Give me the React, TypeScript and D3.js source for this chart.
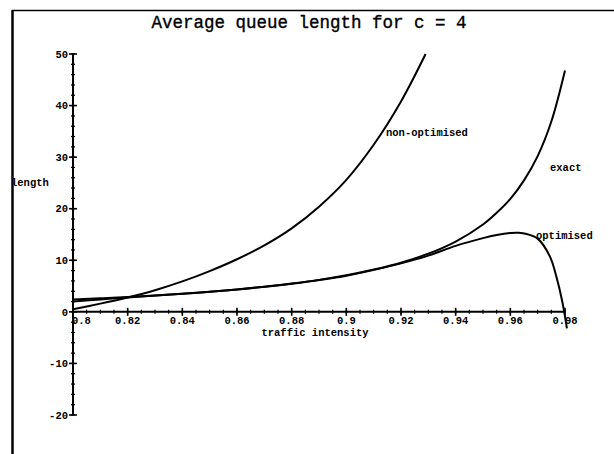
import React from 'react'
import * as d3 from 'd3'

const title = 'Average queue length for c = 4'

const exactRho = [0.8, 0.81, 0.82, 0.83, 0.84, 0.85, 0.86, 0.87, 0.88, 0.89, 0.9, 0.91, 0.92, 0.93, 0.94, 0.95, 0.955, 0.96, 0.965, 0.97, 0.975, 0.98]
const exactLen = [2.39, 2.62, 2.88, 3.18, 3.52, 3.91, 4.35, 4.88, 5.48, 6.2, 7.09, 8.2, 9.53, 11.28, 13.63, 16.94, 19.2, 21.9, 25.5, 30.2, 36.9, 46.8]

const optRho = [0.8, 0.81, 0.82, 0.84, 0.86, 0.88, 0.9, 0.92, 0.93, 0.94, 0.95, 0.955, 0.96, 0.963, 0.966, 0.97, 0.9745, 0.977, 0.979, 0.9807]
const optLen = [2.0, 2.4, 2.8, 3.5, 4.35, 5.45, 7.0, 9.4, 10.9, 12.8, 14.3, 14.9, 15.3, 15.35, 15.1, 14.2, 10.7, 6.5, 2.0, -3.2]

const nonRho = [0.8, 0.81, 0.82, 0.83, 0.84, 0.85, 0.86, 0.87, 0.88, 0.89, 0.9, 0.91, 0.92, 0.929]
const nonLen = [0.5, 1.6, 2.8, 4.2, 5.9, 7.9, 10.2, 12.9, 16.2, 20.4, 25.6, 32.4, 40.8, 50]

const xTicks = [0.8, 0.82, 0.84, 0.86, 0.88, 0.9, 0.92, 0.94, 0.96, 0.98]
const xTickLabels = ['0.8', '0.82', '0.84', '0.86', '0.88', '0.9', '0.92', '0.94', '0.96', '0.98']
const yTicks = [50, 40, 30, 20, 10, 0, -10, -20]

const x = d3.scaleLinear().domain([0.8, 0.98]).range([73, 565])
const y = d3.scaleLinear().domain([-20, 50]).range([415, 54])

const line = d3
  .line<[number, number]>()
  .x((d) => x(d[0]))
  .y((d) => y(d[1]))
  .curve(d3.curveCatmullRom.alpha(0.5))

const zip = (a: number[], b: number[]) => a.map((v, i) => [v, b[i]] as [number, number])

const mono = '"Liberation Mono", "DejaVu Sans Mono", monospace'

const App = () => {
  const xMinor = d3.range(0.8, 0.9801, 0.005)
  const yMinor = d3.range(-20, 50.01, 2)
  const x0 = x(0.8)
  const y0 = y(0)

  return (
    <svg
      width={614}
      height={454}
      style={{ position: 'absolute', left: 0, top: 0, background: '#fff' }}
    >
      <rect width={614} height={454} fill="#fff" />

      <text
        x={309}
        y={28}
        textAnchor="middle"
        fontFamily={mono}
        fontSize={17.5}
        stroke="#000"
        strokeWidth={0.35}
      >
        {title}
      </text>

      {/* axes */}
      <line x1={x0} x2={x0} y1={y(50)} y2={y(-20)} stroke="#000" strokeWidth={2} />
      <line x1={x0} x2={x(0.98)} y1={y0} y2={y0} stroke="#000" strokeWidth={2} />

      {yMinor.map((v) => (
        <line key={'ym' + v} x1={x0 - 2} x2={x0 + 2} y1={y(v)} y2={y(v)} stroke="#000" strokeWidth={1.2} />
      ))}
      {yTicks.map((v) => (
        <g key={'y' + v}>
          <line x1={x0 - 4} x2={x0 + 4} y1={y(v)} y2={y(v)} stroke="#000" strokeWidth={1.6} />
          <text
            x={x0 - 5}
            y={y(v)}
            dy="0.35em"
            textAnchor="end"
            fontFamily={mono}
            fontWeight="bold"
            fontSize={10.5}
          >
            {v}
          </text>
        </g>
      ))}

      {xMinor.map((v) => (
        <line key={'xm' + v} x1={x(v)} x2={x(v)} y1={y0 - 2} y2={y0 + 2} stroke="#000" strokeWidth={1.2} />
      ))}
      {xTicks.map((v, i) => (
        <g key={'x' + v}>
          <line x1={x(v)} x2={x(v)} y1={y0 - 4} y2={y0 + 4} stroke="#000" strokeWidth={1.6} />
          <text
            x={i === 0 ? x(v) - 1 : x(v)}
            y={y0 + 12}
            textAnchor={i === 0 ? 'start' : 'middle'}
            fontFamily={mono}
            fontWeight="bold"
            fontSize={10.5}
          >
            {xTickLabels[i]}
          </text>
        </g>
      ))}

      <text x={(x(0.8) + x(0.98)) / 2 - 4} y={y0 + 24} textAnchor="middle" fontFamily={mono} fontWeight="bold" fontSize={10.5}>
        traffic intensity
      </text>
      <text x={11} y={186} fontFamily={mono} fontWeight="bold" fontSize={10.5}>
        length
      </text>

      {/* curves */}
      <path d={line(zip(exactRho, exactLen)) || ''} fill="none" stroke="#000" strokeWidth={2} />
      <path d={line(zip(optRho, optLen)) || ''} fill="none" stroke="#000" strokeWidth={2} />
      <path d={line(zip(nonRho, nonLen)) || ''} fill="none" stroke="#000" strokeWidth={2} />

      <text x={386} y={136} fontFamily={mono} fontWeight="bold" fontSize={10.5}>
        non-optimised
      </text>
      <text x={550} y={171} fontFamily={mono} fontWeight="bold" fontSize={10.5}>
        exact
      </text>
      <text x={536} y={239} fontFamily={mono} fontWeight="bold" fontSize={10.5}>
        optimised
      </text>

      {/* frame */}
      <line x1={12.5} x2={12.5} y1={10} y2={454} stroke="#000" strokeWidth={2.5} />
      <line x1={12} x2={614} y1={10.5} y2={10.5} stroke="#000" strokeWidth={1.5} />
    </svg>
  )
}

export default App
